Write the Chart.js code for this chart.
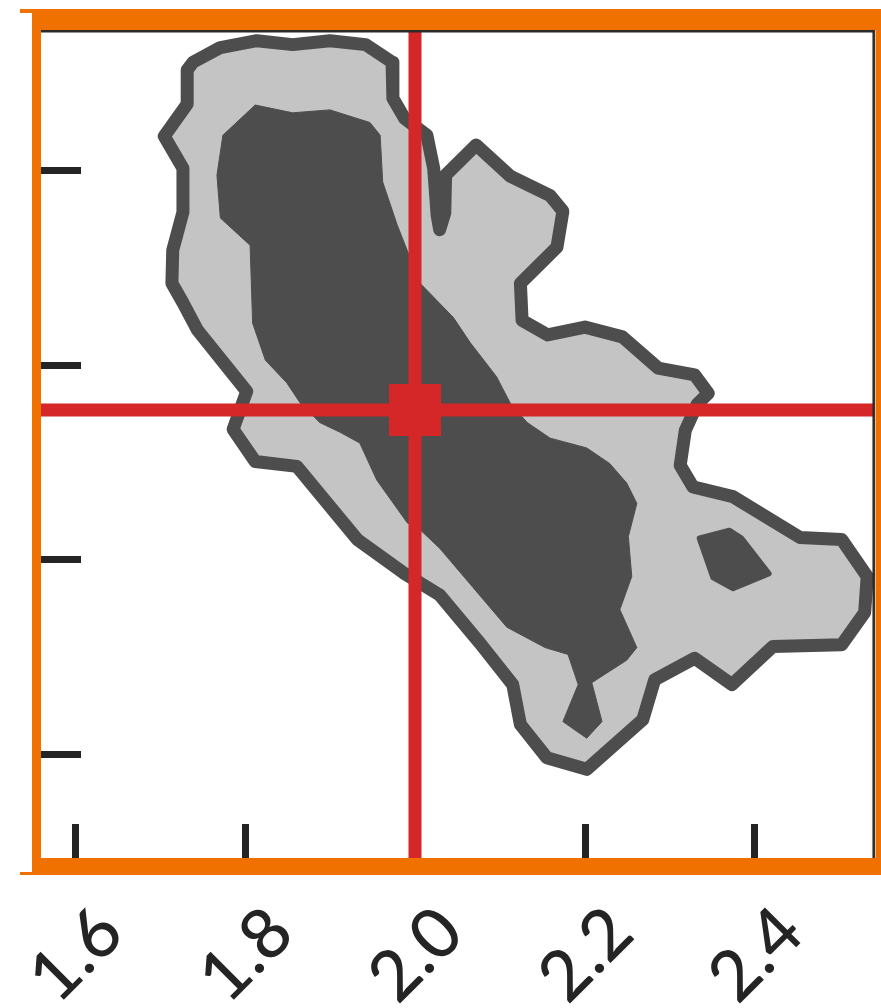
<!DOCTYPE html>
<html>
<head>
<meta charset="utf-8">
<script src="https://cdn.jsdelivr.net/npm/chart.js@4/dist/chart.umd.min.js"></script>
<style>
  html, body { margin: 0; padding: 0; background: #ffffff; }
  canvas { display: block; }
</style>
</head>
<body>
<canvas id="chart" width="881" height="1008"></canvas>
<script>
// Axis ticks and ranges
const xTickValues = [1.6, 1.8, 2.0, 2.2, 2.4];
const xTickLabels = ['1.6', '1.8', '2.0', '2.2', '2.4'];
const yTickValues = [0.2, 0.4, 0.6, 0.8];
const xRange = [1.56, 2.54];
const yRange = [0.094, 0.944];

// Reference (truth) values marked by the crosshair
const truthX = 2.0;
const truthY = 0.554;

// Outer (lower-density) contour
const outerX = [1.739, 1.771, 1.814, 1.856, 1.900, 1.942, 1.973, 1.974, 1.988, 2.014,
  2.022, 2.026, 2.029, 2.035, 2.036, 2.072, 2.112, 2.159, 2.174, 2.167,
  2.124, 2.126, 2.156, 2.200, 2.244, 2.286, 2.329, 2.345, 2.332, 2.318,
  2.312, 2.327, 2.374, 2.453, 2.502, 2.532, 2.529, 2.502, 2.421, 2.373,
  2.329, 2.282, 2.268, 2.202, 2.155, 2.124, 2.115, 2.076, 2.029, 1.986,
  1.932, 1.861, 1.812, 1.786, 1.802, 1.744, 1.727, 1.714, 1.715, 1.727,
  1.727, 1.705, 1.732, 1.732];
const outerY = [0.911, 0.926, 0.933, 0.929, 0.933, 0.929, 0.911, 0.874, 0.853, 0.836,
  0.802, 0.754, 0.739, 0.756, 0.795, 0.826, 0.794, 0.774, 0.758, 0.721,
  0.684, 0.646, 0.631, 0.639, 0.629, 0.597, 0.590, 0.571, 0.560, 0.533,
  0.497, 0.475, 0.465, 0.423, 0.421, 0.383, 0.346, 0.313, 0.311, 0.272,
  0.299, 0.277, 0.236, 0.185, 0.197, 0.231, 0.272, 0.315, 0.364, 0.387,
  0.421, 0.496, 0.501, 0.534, 0.573, 0.636, 0.664, 0.684, 0.718, 0.757,
  0.802, 0.835, 0.868, 0.903];

// Inner (higher-density) contour
const innerX = [1.812, 1.856, 1.900, 1.947, 1.959, 1.962, 1.979, 2.006, 2.045, 2.065,
  2.096, 2.112, 2.132, 2.159, 2.202, 2.229, 2.249, 2.261, 2.251, 2.255,
  2.241, 2.261, 2.249, 2.208, 2.220, 2.202, 2.174, 2.192, 2.180, 2.153,
  2.108, 2.068, 2.029, 2.006, 1.991, 1.955, 1.935, 1.912, 1.888, 1.865,
  1.849, 1.824, 1.809, 1.806, 1.771, 1.767, 1.774];
const innerY = [0.867, 0.859, 0.862, 0.849, 0.836, 0.788, 0.744, 0.684, 0.649, 0.623,
  0.588, 0.561, 0.541, 0.525, 0.515, 0.499, 0.479, 0.458, 0.424, 0.383,
  0.349, 0.310, 0.297, 0.274, 0.234, 0.217, 0.234, 0.272, 0.303, 0.310,
  0.331, 0.372, 0.412, 0.431, 0.438, 0.482, 0.520, 0.531, 0.541, 0.561,
  0.582, 0.605, 0.643, 0.723, 0.751, 0.795, 0.836];

// Small detached inner-contour island
const islandX = [2.335, 2.370, 2.384, 2.416, 2.374, 2.351];
const islandY = [0.422, 0.430, 0.422, 0.386, 0.371, 0.382];

const GRID_DARK = '#4d4d4d';
const GRID_LIGHT = '#c4c4c4';
const RED = '#d62728';
const ORANGE = '#f07100';
const INK = '#242424';

function closedPath(xs, ys) {
  const pts = xs.map((x, i) => ({ x: x, y: ys[i] }));
  pts.push({ x: xs[0], y: ys[0] });
  return pts;
}

function zeroPadding(s) {
  s.paddingLeft = 0;
  s.paddingRight = 0;
  s.paddingTop = 0;
  s.paddingBottom = 0;
}

// Axes frame: dark top/right spines and the orange highlight border
const framePlugin = {
  id: 'panelFrame',
  afterDraw(chart) {
    const { ctx, chartArea: a } = chart;
    ctx.save();
    ctx.strokeStyle = '#2b2b2b';
    ctx.lineWidth = 2.5;
    ctx.beginPath();
    ctx.moveTo(a.left, a.top + 1.3);
    ctx.lineTo(a.right - 0.3, a.top + 1.3);
    ctx.lineTo(a.right - 0.3, a.bottom);
    ctx.stroke();

    ctx.fillStyle = ORANGE;
    const outerL = a.left - 9;
    ctx.fillRect(outerL, a.top - 21, chart.width - outerL, 21);      // top
    ctx.fillRect(outerL - 12, a.top - 21, 12, 4);
    ctx.fillRect(outerL, a.top - 21, 9, a.bottom - a.top + 38);       // left
    ctx.fillRect(outerL, a.bottom, chart.width - outerL, 17);         // bottom
    ctx.fillRect(outerL - 12, a.bottom + 14, 12, 3);
    ctx.fillRect(a.right + 1.5, a.top - 21, chart.width - a.right, a.bottom - a.top + 38); // right
    ctx.restore();
  }
};

const ctx = document.getElementById('chart').getContext('2d');
new Chart(ctx, {
  type: 'scatter',
  data: {
    datasets: [
      {
        data: closedPath(outerX, outerY),
        showLine: true,
        fill: 'shape',
        backgroundColor: GRID_LIGHT,
        borderColor: GRID_DARK,
        borderWidth: 13,
        borderJoinStyle: 'round',
        borderCapStyle: 'round',
        tension: 0,
        pointRadius: 0,
        order: 5
      },
      {
        data: closedPath(innerX, innerY),
        showLine: true,
        fill: 'shape',
        backgroundColor: GRID_DARK,
        borderColor: GRID_DARK,
        borderWidth: 1,
        tension: 0,
        pointRadius: 0,
        order: 4
      },
      {
        data: closedPath(islandX, islandY),
        showLine: true,
        fill: 'shape',
        backgroundColor: GRID_DARK,
        borderColor: GRID_DARK,
        borderWidth: 6,
        borderJoinStyle: 'round',
        borderCapStyle: 'round',
        tension: 0,
        pointRadius: 0,
        order: 4
      },
      {
        data: [{ x: truthX, y: yRange[0] }, { x: truthX, y: yRange[1] }],
        showLine: true,
        borderColor: RED,
        borderWidth: 13,
        pointRadius: 0,
        order: 2
      },
      {
        data: [{ x: xRange[0], y: truthY }, { x: xRange[1], y: truthY }],
        showLine: true,
        borderColor: RED,
        borderWidth: 13,
        pointRadius: 0,
        order: 2
      },
      {
        data: [{ x: truthX, y: truthY }],
        pointStyle: 'rect',
        pointRadius: 36.8,
        backgroundColor: RED,
        borderWidth: 0,
        order: 1
      }
    ]
  },
  options: {
    responsive: false,
    animation: false,
    events: [],
    layout: { autoPadding: false, padding: { left: 41, top: 30, right: 7, bottom: 0 } },
    plugins: { legend: { display: false }, tooltip: { enabled: false } },
    scales: {
      x: {
        type: 'linear',
        position: 'bottom',
        min: xRange[0],
        max: xRange[1],
        afterBuildTicks: (s) => { s.ticks = xTickValues.map(v => ({ value: v })); },
        afterFit: (s) => { s.height = 150; zeroPadding(s); },
        border: { display: false },
        grid: {
          drawOnChartArea: false,
          drawTicks: true,
          tickLength: -34,
          tickWidth: 7,
          tickColor: INK
        },
        ticks: {
          autoSkip: false,
          minRotation: 45,
          maxRotation: 45,
          padding: 67,
          labelOffset: 36,
          color: INK,
          font: { family: 'Lato', size: 70, weight: '500' },
          callback: (v) => xTickLabels[xTickValues.indexOf(Math.round(v * 10) / 10)] ?? ''
        }
      },
      y: {
        type: 'linear',
        position: 'left',
        min: yRange[0],
        max: yRange[1],
        afterBuildTicks: (s) => { s.ticks = yTickValues.map(v => ({ value: v })); },
        afterFit: (s) => { s.width = 0; zeroPadding(s); },
        border: { display: false },
        grid: {
          drawOnChartArea: false,
          drawTicks: true,
          tickLength: -40,
          tickWidth: 7,
          tickColor: INK
        },
        ticks: { display: false }
      }
    }
  },
  plugins: [framePlugin]
});
</script>
</body>
</html>
